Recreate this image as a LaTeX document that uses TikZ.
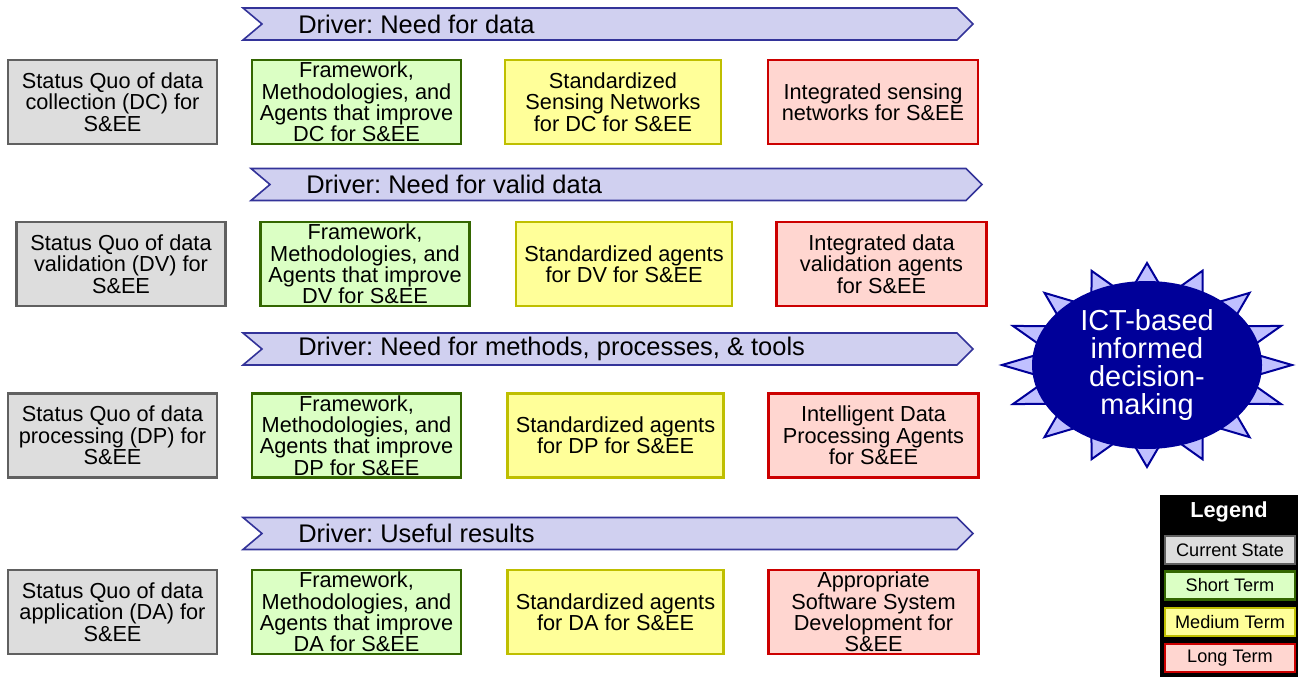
\documentclass[tikz,border=0pt]{standalone}
\usepackage{fontspec}
\setmainfont{Liberation Sans}
\usetikzlibrary{shapes.geometric, positioning}
\frenchspacing

\definecolor{nowfill}{HTML}{DDDDDD}
\definecolor{nowline}{HTML}{606060}
\definecolor{shortfill}{HTML}{DBFFC4}
\definecolor{shortline}{HTML}{336600}
\definecolor{midfill}{HTML}{FFFF99}
\definecolor{midline}{HTML}{BFBF00}
\definecolor{longfill}{HTML}{FFD6D0}
\definecolor{longline}{HTML}{CC0000}
\definecolor{drvfill}{HTML}{D0D0F0}
\definecolor{drvline}{HTML}{333399}
\definecolor{spikefill}{HTML}{C0C0FF}
\definecolor{goalfill}{HTML}{000099}

\tikzset{
  stage/.style={draw, line width=1.6pt, minimum width=156.75pt, minimum height=63pt,
    inner sep=0pt, align=center, font=\fontsize{16.3}{16}\selectfont},
  nowbox/.style={stage, fill=nowfill, draw=nowline},
  shortbox/.style={stage, fill=shortfill, draw=shortline},
  midbox/.style={stage, fill=midfill, draw=midline, minimum width=162pt},
  longbox/.style={stage, fill=longfill, draw=longline, minimum width=157.5pt},
  driverline/.style={fill=drvfill, draw=drvline, line width=1.2pt, line join=miter},
  drivertext/.style={anchor=west, inner sep=0pt, font=\fontsize{19.1}{19}\selectfont},
  keybox/.style={draw, line width=1.6pt, minimum width=97.5pt, minimum height=21pt,
    inner sep=0pt, font=\fontsize{13.6}{14}\selectfont},
}

% driver banner: name, left x, mid y, right x, text
\newcommand{\driver}[5]{%
  \draw[driverline] ({#2},{#3-16}) -- ({#4-16},{#3-16}) -- ({#4},{#3}) --
    ({#4-16},{#3+16}) -- ({#2},{#3+16}) -- ({#2+19},{#3}) -- cycle;
  \path ({#2+55},{#3}) node[drivertext] (#1) {#5};
}

\begin{document}
\begin{tikzpicture}[x=0.75pt,y=-0.75pt]
\useasboundingbox (0,0) rectangle (1298,677);

% data collection
\driver{drv-dc}{243}{24}{973}{Driver: Need for data}
\path (112.5,102) node[nowbox] (dc-now) {Status Quo of data\\collection (DC) for\\S\&EE};
\path (356.5,102) node[shortbox] (dc-short) {Framework,\\Methodologies, and\\Agents that improve\\DC for S\&EE};
\path (613,102) node[midbox] (dc-mid) {Standardized\\Sensing Networks\\for DC for S\&EE};
\path (873,102) node[longbox] (dc-long) {Integrated sensing\\networks for S\&EE};

% data validation
\driver{drv-dv}{251}{184.5}{982}{Driver: Need for valid data}
\path (121,264) node[nowbox] (dv-now) {Status Quo of data\\validation (DV) for\\S\&EE};
\path (365,264) node[shortbox] (dv-short) {Framework,\\Methodologies, and\\Agents that improve\\DV for S\&EE};
\path (624,264) node[midbox] (dv-mid) {Standardized agents\\for DV for S\&EE};
\path (881.5,264) node[longbox] (dv-long) {Integrated data\\validation agents\\for S\&EE};

% data processing
\driver{drv-dp}{243}{349}{973}{Driver: Need for methods, processes, \& tools}
\path (112.5,435.5) node[nowbox] (dp-now) {Status Quo of data\\processing (DP) for\\S\&EE};
\path (356.5,435.5) node[shortbox] (dp-short) {Framework,\\Methodologies, and\\Agents that improve\\DP for S\&EE};
\path (615.5,435.5) node[midbox] (dp-mid) {Standardized agents\\for DP for S\&EE};
\path (873.5,435.5) node[longbox] (dp-long) {Intelligent Data\\Processing Agents\\for S\&EE};

% data application
\driver{drv-da}{243}{533.5}{973}{Driver: Useful results}
\path (112.5,612) node[nowbox] (da-now) {Status Quo of data\\application (DA) for\\S\&EE};
\path (356.5,612) node[shortbox] (da-short) {Framework,\\Methodologies, and\\Agents that improve\\DA for S\&EE};
\path (615.5,612) node[midbox] (da-mid) {Standardized agents\\for DA for S\&EE};
\path (873.5,612) node[longbox] (da-long) {Appropriate\\Software System\\Development for\\S\&EE};

% goal
\begin{scope}[shift={(1147,365)}]
\draw[fill=spikefill, draw=goalfill, line width=1.5pt, line join=miter]
  (0:145 and 102) \foreach \i [evaluate=\i as \rx using {isodd(\i)?100:145},
    evaluate=\i as \ry using {isodd(\i)?70:102}] in {1,...,31} { -- (\i*11.25:{\rx} and {\ry}) } -- cycle;
\end{scope}
\path (1147,365) node[ellipse, fill=goalfill, minimum width=172.5pt, minimum height=126pt,
  inner sep=0pt, align=center, text=white, font=\fontsize{21.7}{21}\selectfont] (goal)
  {ICT-based\\informed\\decision-\\making};

% legend
\path (1160,495) node[anchor=north west, fill=black, minimum width=103.5pt, minimum height=136.5pt, inner sep=0pt] (legend) {};
\path (1229,512) node[text=white, font=\fontsize{16.3}{16}\selectfont\bfseries] (legend-title) {Legend};
\path (1230,550) node[keybox, fill=nowfill, draw=nowline] (key-now) {Current State};
\path (1230,585.5) node[keybox, fill=shortfill, draw=shortline] (key-short) {Short Term};
\path (1230,622) node[keybox, fill=midfill, draw=midline] (key-mid) {Medium Term};
\path (1230,658) node[keybox, fill=longfill, draw=longline] (key-long) {Long Term};
\end{tikzpicture}
\end{document}
